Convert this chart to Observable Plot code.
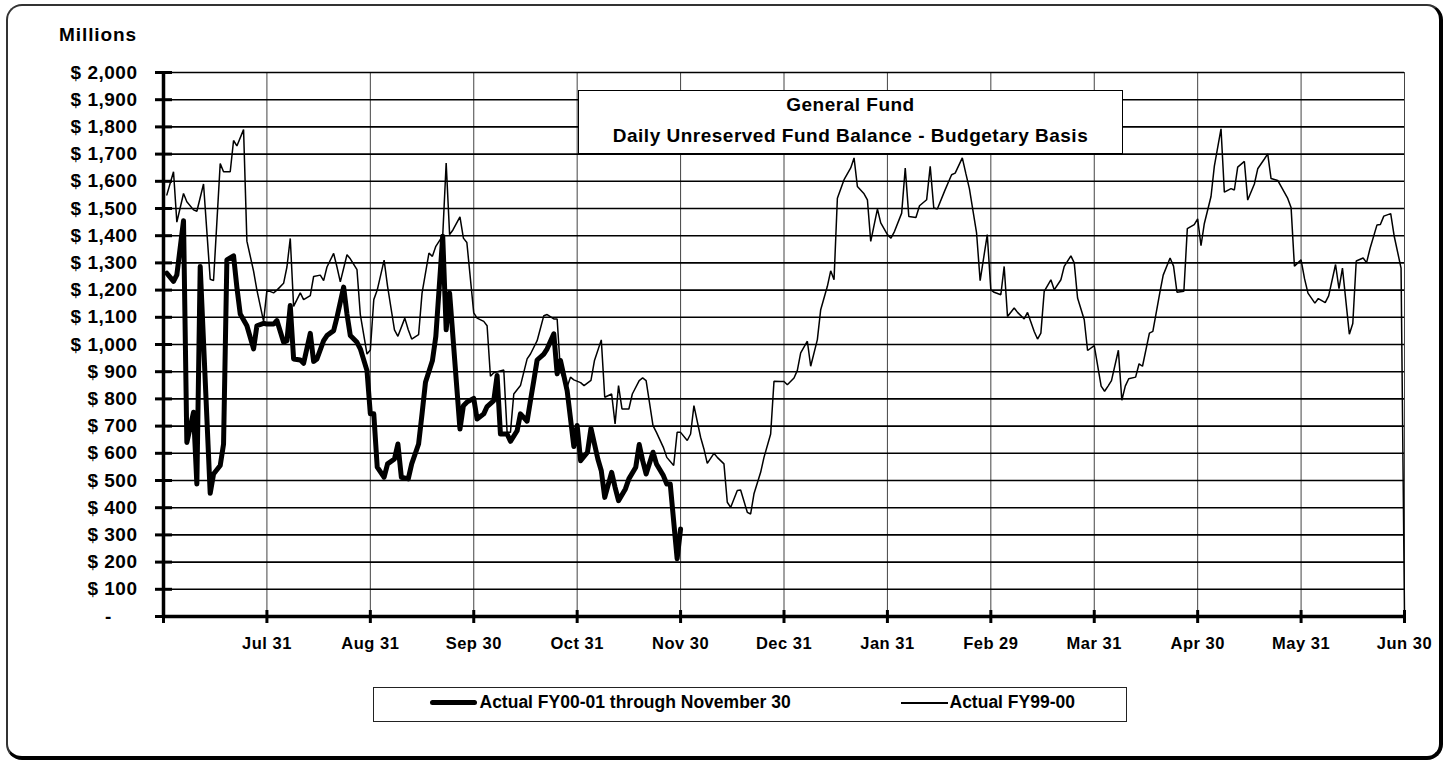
<!DOCTYPE html>
<html>
<head>
<meta charset="utf-8">
<script src="https://cdn.jsdelivr.net/npm/d3@7"></script>
<script src="https://cdn.jsdelivr.net/npm/@observablehq/plot@0.6"></script>
<style>
  body { margin: 0; background: #fff; }
  #wrap { position: relative; width: 1447px; height: 762px; overflow: hidden; background: #fff;
          font-family: "Liberation Sans", Arial, sans-serif; font-weight: bold; color: #000; }
  #frame { position: absolute; left: 6px; top: 4px; width: 1437px; height: 756px; box-sizing: border-box;
           border-left: 2px solid #333; border-top: 2px solid #333; border-right: 4px solid #000; border-bottom: 4px solid #000;
           border-radius: 16px; }
  #chart { position: absolute; left: 0; top: 0; }
  #millions { position: absolute; left: 0; width: 137px; top: 25px; text-align: right; font-size: 19px; line-height: 20px; letter-spacing: 0.9px; }
  #titlebox { position: absolute; left: 578px; top: 90px; width: 545px; height: 64px; box-sizing: border-box;
              border: 1.5px solid #000; background: #fff; }
  .tline { position: absolute; left: 0; right: 0; text-align: center; font-size: 19px; line-height: 20px; letter-spacing: 0.5px; white-space: nowrap; }
  #legend { position: absolute; left: 373px; top: 687px; width: 754px; height: 35px; box-sizing: border-box;
            border: 1.5px solid #222; background: #fff; }
  .sw { position: absolute; background: #000; }
  .ltext { position: absolute; top: 3.7px; font-size: 17.5px; line-height: 20px; white-space: nowrap; }
</style>
</head>
<body>
<div id="wrap">
  <div id="frame"></div>
  <div id="chart"></div>
  <div id="millions"></div>
  <div id="titlebox"><div class="tline" id="t1" style="top:3.6px"></div><div class="tline" id="t2" style="top:35.2px"></div></div>
  <div id="legend">
    <div class="sw" style="left:55.5px;top:12px;width:47px;height:5px;border-radius:2.5px"></div>
    <div class="ltext" id="l1" style="left:105.5px"></div>
    <div class="sw" style="left:526.5px;top:14px;width:47px;height:1.5px"></div>
    <div class="ltext" id="l2" style="left:575.5px"></div>
  </div>
</div>
<script>
// ---- Text ----
const unitLabel = "Millions";
const titleLines = ["General Fund", "Daily Unreserved Fund Balance - Budgetary Basis"];
const legendLabels = ["Actual FY00-01 through November 30", "Actual FY99-00"];

// ---- Axis ticks ----
const tickDates = ["7/31","8/31","9/30","10/31","11/30","12/31","1/31","2/29","3/31","4/30","5/31","6/30"];
const tickLabels = ["Jul 31","Aug 31","Sep 30","Oct 31","Nov 30","Dec 31","Jan 31","Feb 29","Mar 31","Apr 30","May 31","Jun 30"];
const yTickValues = [0,100,200,300,400,500,600,700,800,900,1000,1100,1200,1300,1400,1500,1600,1700,1800,1900,2000];
const monthLengths = {7:31, 8:31, 9:30, 10:31, 11:30, 12:31, 1:31, 2:29, 3:31, 4:30, 5:31, 6:30};

// ---- Actual FY99-00 (millions) ----
const fy9900Dates = [
  "7/1","7/3","7/4","7/6","7/7","7/9","7/10","7/12","7/14","7/15","7/17","7/18","7/20","7/21","7/22","7/24","7/25","7/27","7/28","7/30","7/31",
  "8/2","8/3","8/5","8/6","8/7","8/8","8/10","8/11","8/13","8/14","8/16","8/17","8/18","8/20","8/21","8/22","8/24","8/25","8/27","8/28","8/30","8/31",
  "9/1","9/2","9/4","9/5","9/7","9/8","9/10","9/11","9/12","9/14","9/15","9/17","9/18","9/19","9/21","9/22","9/23","9/24","9/26","9/27","9/28","9/30",
  "10/1","10/3","10/4","10/5","10/6","10/9","10/10","10/11","10/12","10/14","10/16","10/17","10/19","10/21","10/22","10/24","10/25","10/26","10/28","10/29","10/30",
  "11/1","11/2","11/4","11/5","11/7","11/8","11/10","11/11","11/12","11/13","11/15","11/16","11/18","11/19","11/20","11/22","11/23","11/25","11/26","11/28","11/29","11/30",
  "12/2","12/3","12/4","12/6","12/7","12/8","12/10","12/11","12/13","12/14","12/15","12/17","12/18","12/20","12/21","12/22","12/24","12/25","12/27","12/28","12/30","12/31",
  "1/1","1/3","1/4","1/5","1/7","1/8","1/10","1/11","1/13","1/14","1/15","1/16","1/18","1/20","1/21","1/22","1/24","1/25","1/26","1/28","1/29","1/31",
  "2/1","2/2","2/4","2/5","2/6","2/8","2/9","2/11","2/12","2/13","2/14","2/16","2/17","2/18","2/19","2/21","2/22","2/23","2/25","2/26","2/28","2/29",
  "3/1","3/3","3/4","3/5","3/7","3/8","3/10","3/11","3/13","3/14","3/15","3/16","3/18","3/19","3/21","3/22","3/24","3/25","3/26","3/28","3/29","3/31",
  "4/2","4/3","4/4","4/5","4/7","4/8","4/9","4/10","4/12","4/13","4/14","4/16","4/17","4/19","4/20","4/22","4/23","4/24","4/26","4/27","4/29","4/30",
  "5/1","5/2","5/4","5/5","5/7","5/8","5/10","5/11","5/12","5/14","5/15","5/17","5/18","5/20","5/21","5/22","5/24","5/25","5/27","5/28","5/29","5/31",
  "6/1","6/2","6/4","6/5","6/7","6/8","6/10","6/11","6/12","6/14","6/15","6/16","6/18","6/19","6/20","6/22","6/23","6/24","6/26","6/27","6/29","6/30"
];
const fy9900Values = [
  1550,1635,1450,1555,1525,1495,1490,1590,1240,1235,1665,1635,1635,1750,1730,1790,1380,1270,1200,1085,1200,
  1190,1200,1225,1285,1390,1140,1190,1165,1180,1250,1255,1235,1285,1335,1285,1230,1330,1315,1275,1110,965,980,
  1165,1200,1310,1214,1054,1030,1097,1054,1020,1036,1189,1336,1324,1361,1400,1667,1404,1422,1469,1391,1375,1116,
  1097,1085,1069,883,896,906,677,677,818,849,947,965,1014,1106,1110,1094,1094,900,845,880,870,
  860,849,868,940,1017,806,818,708,849,763,763,818,867,877,867,702,677,622,585,555,677,677,
  647,671,775,659,616,563,600,585,561,420,401,463,465,383,377,451,530,585,671,865,864,864,
  852,877,905,969,1012,920,1018,1128,1214,1271,1238,1538,1606,1649,1686,1581,1554,1532,1379,1498,1447,1404,
  1391,1416,1483,1649,1471,1467,1510,1532,1655,1502,1498,1563,1594,1624,1630,1686,1628,1572,1410,1235,1404,1201,
  1192,1183,1287,1103,1134,1118,1094,1118,1048,1020,1042,1195,1238,1201,1238,1287,1326,1300,1171,1091,978,996,
  847,828,847,867,979,795,847,874,880,929,920,1042,1048,1189,1255,1318,1288,1192,1196,1426,1441,1462,
  1363,1445,1544,1656,1793,1560,1573,1568,1652,1673,1531,1590,1646,1682,1701,1610,1603,1581,1537,1504,1288,1311,
  1242,1189,1152,1169,1154,1179,1294,1205,1281,1038,1077,1307,1318,1301,1353,1439,1441,1472,1481,1399,1281,10
];

// ---- Actual FY00-01 through November 30 (millions) ----
const fy0001Dates = [
  "7/1","7/3","7/4","7/6","7/7","7/9","7/10","7/11","7/14","7/15","7/17","7/18","7/19","7/21","7/22","7/23","7/25","7/27","7/28","7/30","7/31",
  "8/2","8/3","8/5","8/6","8/7","8/8","8/10","8/11","8/13","8/14","8/15","8/17","8/18","8/20","8/21","8/23","8/24","8/25","8/27","8/28","8/30","8/31",
  "9/1","9/2","9/4","9/5","9/7","9/8","9/9","9/11","9/12","9/14","9/15","9/16","9/18","9/19","9/21","9/22","9/23","9/26","9/27","9/28","9/30",
  "10/1","10/3","10/4","10/6","10/7","10/8","10/10","10/11","10/13","10/14","10/16","10/17","10/18","10/19","10/21","10/22","10/24","10/25","10/26","10/28","10/30","10/31",
  "11/1","11/3","11/4","11/6","11/7","11/8","11/10","11/11","11/12","11/14","11/15","11/17","11/18","11/19","11/20","11/22","11/23","11/25","11/26","11/27","11/29","11/30"
];
const fy0001Values = [
  1262,1232,1256,1455,640,751,487,1287,453,524,555,634,1311,1326,1210,1112,1069,984,1069,1078,1075,
  1075,1088,1008,1014,1143,947,943,931,1041,938,947,1014,1033,1051,1100,1211,1112,1033,1008,984,904,745,
  745,549,512,561,579,634,512,506,561,634,745,861,940,1030,1398,1054,1189,689,775,788,802,
  726,745,772,794,886,671,671,644,683,745,718,794,867,943,965,984,1039,892,941,830,625,702,
  573,604,692,579,536,438,530,475,426,469,506,549,632,573,524,604,561,518,487,487,212,322
];

// position along the fiscal year: months since Jun 30 (each month one unit)
function fiscalPos(md) {
  const [m, d] = md.split("/").map(Number);
  return (m + 5) % 12 + d / monthLengths[m];
}
const fy9900 = fy9900Dates.map((d, i) => ({pos: fiscalPos(d), value: fy9900Values[i]}));
const fy0001 = fy0001Dates.map((d, i) => ({pos: fiscalPos(d), value: fy0001Values[i]}));
const tickPositions = tickDates.map(fiscalPos);
const labelByPos = new Map(tickPositions.map((p, i) => [p, tickLabels[i]]));
const xTickValues = [0, ...tickPositions];
const yLabelValues = yTickValues.filter(v => v > 0);
const yGrid = yTickValues.filter(v => v > 0);

const chart = Plot.plot({
  width: 1447,
  height: 762,
  marginLeft: 163,
  marginRight: 43,
  marginTop: 72,
  marginBottom: 146,
  x: {domain: [0, 12], axis: null, label: null},
  y: {domain: [0, 2000], axis: null, label: null},
  style: {
    fontFamily: '"Liberation Sans", Arial, sans-serif',
    fontSize: "19px",
    fontWeight: "bold",
    color: "#000",
    background: "transparent",
    letterSpacing: "0.5px",
    overflow: "visible"
  },
  marks: [
    Plot.ruleX(tickPositions, {stroke: "#444", strokeWidth: 1}),
    Plot.ruleY(yGrid, {stroke: "#000", strokeWidth: 1.6}),
    Plot.line(fy9900, {x: "pos", y: "value", stroke: "#000", strokeWidth: 1.5, strokeLinejoin: "miter"}),
    Plot.line(fy0001, {x: "pos", y: "value", stroke: "#000", strokeWidth: 5}),
    Plot.ruleX([0], {stroke: "#000", strokeWidth: 3.5}),
    Plot.ruleY([0], {stroke: "#000", strokeWidth: 3.5}),
    Plot.axisY(yTickValues, {tickSize: 17, dx: 9, tickFormat: () => "", strokeWidth: 3}),
    Plot.axisY(yLabelValues, {tickSize: 0, tickPadding: 26, tickFormat: d => "$ " + d3.format(",")(d)}),
    Plot.text([0], {y: d => d, text: () => "-", frameAnchor: "left", dx: -55, textAnchor: "middle"}),
    Plot.axisX(xTickValues, {tickSize: 13, dy: -6, tickFormat: () => "", strokeWidth: 3}),
    Plot.axisX(tickPositions, {tickSize: 0, tickPadding: 21, fontSize: 16.5, tickFormat: d => labelByPos.get(d)})
  ]
});
document.getElementById("chart").appendChild(chart);
document.getElementById("millions").textContent = unitLabel;
document.getElementById("t1").textContent = titleLines[0];
document.getElementById("t2").textContent = titleLines[1];
document.getElementById("l1").textContent = legendLabels[0];
document.getElementById("l2").textContent = legendLabels[1];
</script>
</body>
</html>
